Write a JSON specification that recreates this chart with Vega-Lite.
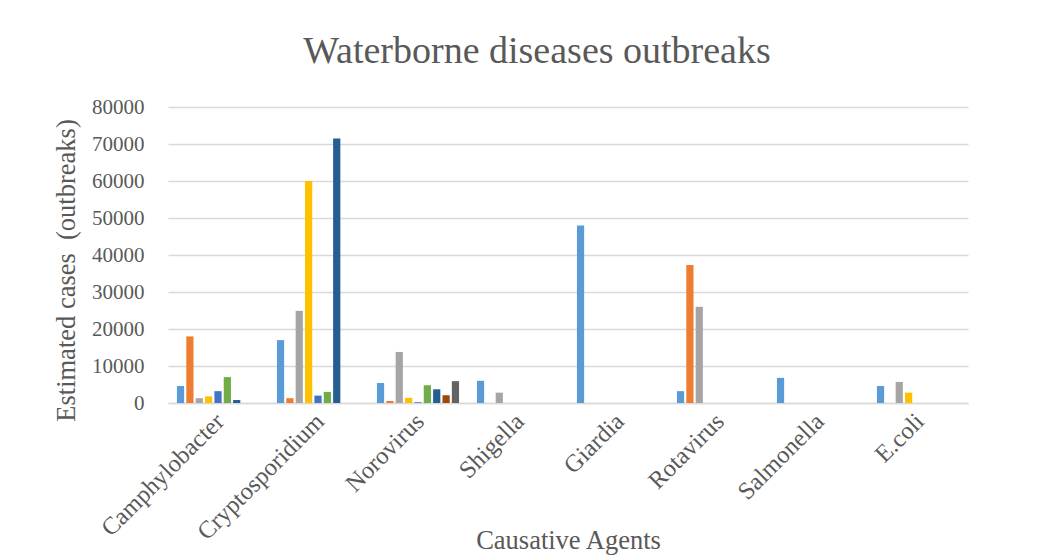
{
  "$schema": "https://vega.github.io/schema/vega-lite/v6.json",
  "width": 800,
  "height": 296,
  "autosize": {"type": "none"},
  "padding": {"left": 168, "top": 107, "right": 95, "bottom": 153},
  "background": "white",
  "title": {
    "text": "Waterborne diseases outbreaks",
    "font": "Liberation Serif",
    "fontSize": 38,
    "fontWeight": "normal",
    "color": "#595959",
    "anchor": "middle",
    "dx": -31,
    "offset": 25
  },
  "data": {
    "values": [
      {"agent": "Camphylobacter", "series": "S1", "cases": 4600},
      {"agent": "Camphylobacter", "series": "S2", "cases": 18000},
      {"agent": "Camphylobacter", "series": "S3", "cases": 1300},
      {"agent": "Camphylobacter", "series": "S4", "cases": 1800},
      {"agent": "Camphylobacter", "series": "S5", "cases": 3200},
      {"agent": "Camphylobacter", "series": "S6", "cases": 7000},
      {"agent": "Camphylobacter", "series": "S7", "cases": 800},
      {"agent": "Cryptosporidium", "series": "S1", "cases": 17000},
      {"agent": "Cryptosporidium", "series": "S2", "cases": 1300},
      {"agent": "Cryptosporidium", "series": "S3", "cases": 24900},
      {"agent": "Cryptosporidium", "series": "S4", "cases": 60000},
      {"agent": "Cryptosporidium", "series": "S5", "cases": 2000},
      {"agent": "Cryptosporidium", "series": "S6", "cases": 3000},
      {"agent": "Cryptosporidium", "series": "S7", "cases": 71500},
      {"agent": "Norovirus", "series": "S1", "cases": 5400},
      {"agent": "Norovirus", "series": "S2", "cases": 550},
      {"agent": "Norovirus", "series": "S3", "cases": 13800},
      {"agent": "Norovirus", "series": "S4", "cases": 1400},
      {"agent": "Norovirus", "series": "S5", "cases": 200},
      {"agent": "Norovirus", "series": "S6", "cases": 4800},
      {"agent": "Norovirus", "series": "S7", "cases": 3700},
      {"agent": "Norovirus", "series": "S8", "cases": 2100},
      {"agent": "Norovirus", "series": "S9", "cases": 5900},
      {"agent": "Shigella", "series": "S1", "cases": 6000},
      {"agent": "Shigella", "series": "S3", "cases": 2800},
      {"agent": "Giardia", "series": "S1", "cases": 48000},
      {"agent": "Rotavirus", "series": "S1", "cases": 3200},
      {"agent": "Rotavirus", "series": "S2", "cases": 37300},
      {"agent": "Rotavirus", "series": "S3", "cases": 26000},
      {"agent": "Salmonella", "series": "S1", "cases": 6800},
      {"agent": "E.coli", "series": "S1", "cases": 4600},
      {"agent": "E.coli", "series": "S3", "cases": 5700},
      {"agent": "E.coli", "series": "S4", "cases": 2800}
    ]
  },
  "mark": {"type": "bar"},
  "encoding": {
    "x": {
      "field": "agent",
      "type": "nominal",
      "sort": ["Camphylobacter", "Cryptosporidium", "Norovirus", "Shigella", "Giardia", "Rotavirus", "Salmonella", "E.coli"],
      "scale": {"paddingInner": 0.16, "paddingOuter": 0.08},
      "axis": {
        "title": "Causative Agents",
        "titleFont": "Liberation Serif",
        "titleFontSize": 26.5,
        "titleFontWeight": "normal",
        "titleColor": "#595959",
        "titleY": 145,
        "titleBaseline": "alphabetic",
        "labelFont": "Liberation Serif",
        "labelFontSize": 24.5,
        "labelColor": "#595959",
        "labelAngle": -45,
        "labelPadding": 6,
        "labelOffset": -6,
        "ticks": false,
        "domainColor": "#D9D9D9",
        "domainWidth": 1.5,
        "grid": false
      }
    },
    "xOffset": {
      "field": "series",
      "type": "nominal",
      "scale": {"domain": ["S1", "S2", "S3", "S4", "S5", "S6", "S7", "S8", "S9"], "paddingInner": 0.23, "paddingOuter": 0.1}
    },
    "y": {
      "field": "cases",
      "type": "quantitative",
      "scale": {"domain": [0, 80000], "nice": false},
      "axis": {
        "title": "Estimated cases \u00a0(outbreaks)",
        "titleFont": "Liberation Serif",
        "titleFontSize": 26.5,
        "titleFontWeight": "normal",
        "titleColor": "#595959",
        "titleX": -94,
        "titleY": 163,
        "titleBaseline": "alphabetic",
        "values": [0, 10000, 20000, 30000, 40000, 50000, 60000, 70000, 80000],
        "format": "d",
        "labelFont": "Liberation Serif",
        "labelFontSize": 21,
        "labelColor": "#595959",
        "labelPadding": 24,
        "ticks": false,
        "domain": false,
        "gridColor": "#D9D9D9",
        "gridWidth": 1.3
      }
    },
    "color": {
      "field": "series",
      "type": "nominal",
      "scale": {
        "domain": ["S1", "S2", "S3", "S4", "S5", "S6", "S7", "S8", "S9"],
        "range": ["#5B9BD5", "#ED7D31", "#A5A5A5", "#FFC000", "#4472C4", "#70AD47", "#255E91", "#9E480E", "#636363"]
      },
      "legend": null
    }
  },
  "config": {
    "view": {"stroke": null}
  }
}
